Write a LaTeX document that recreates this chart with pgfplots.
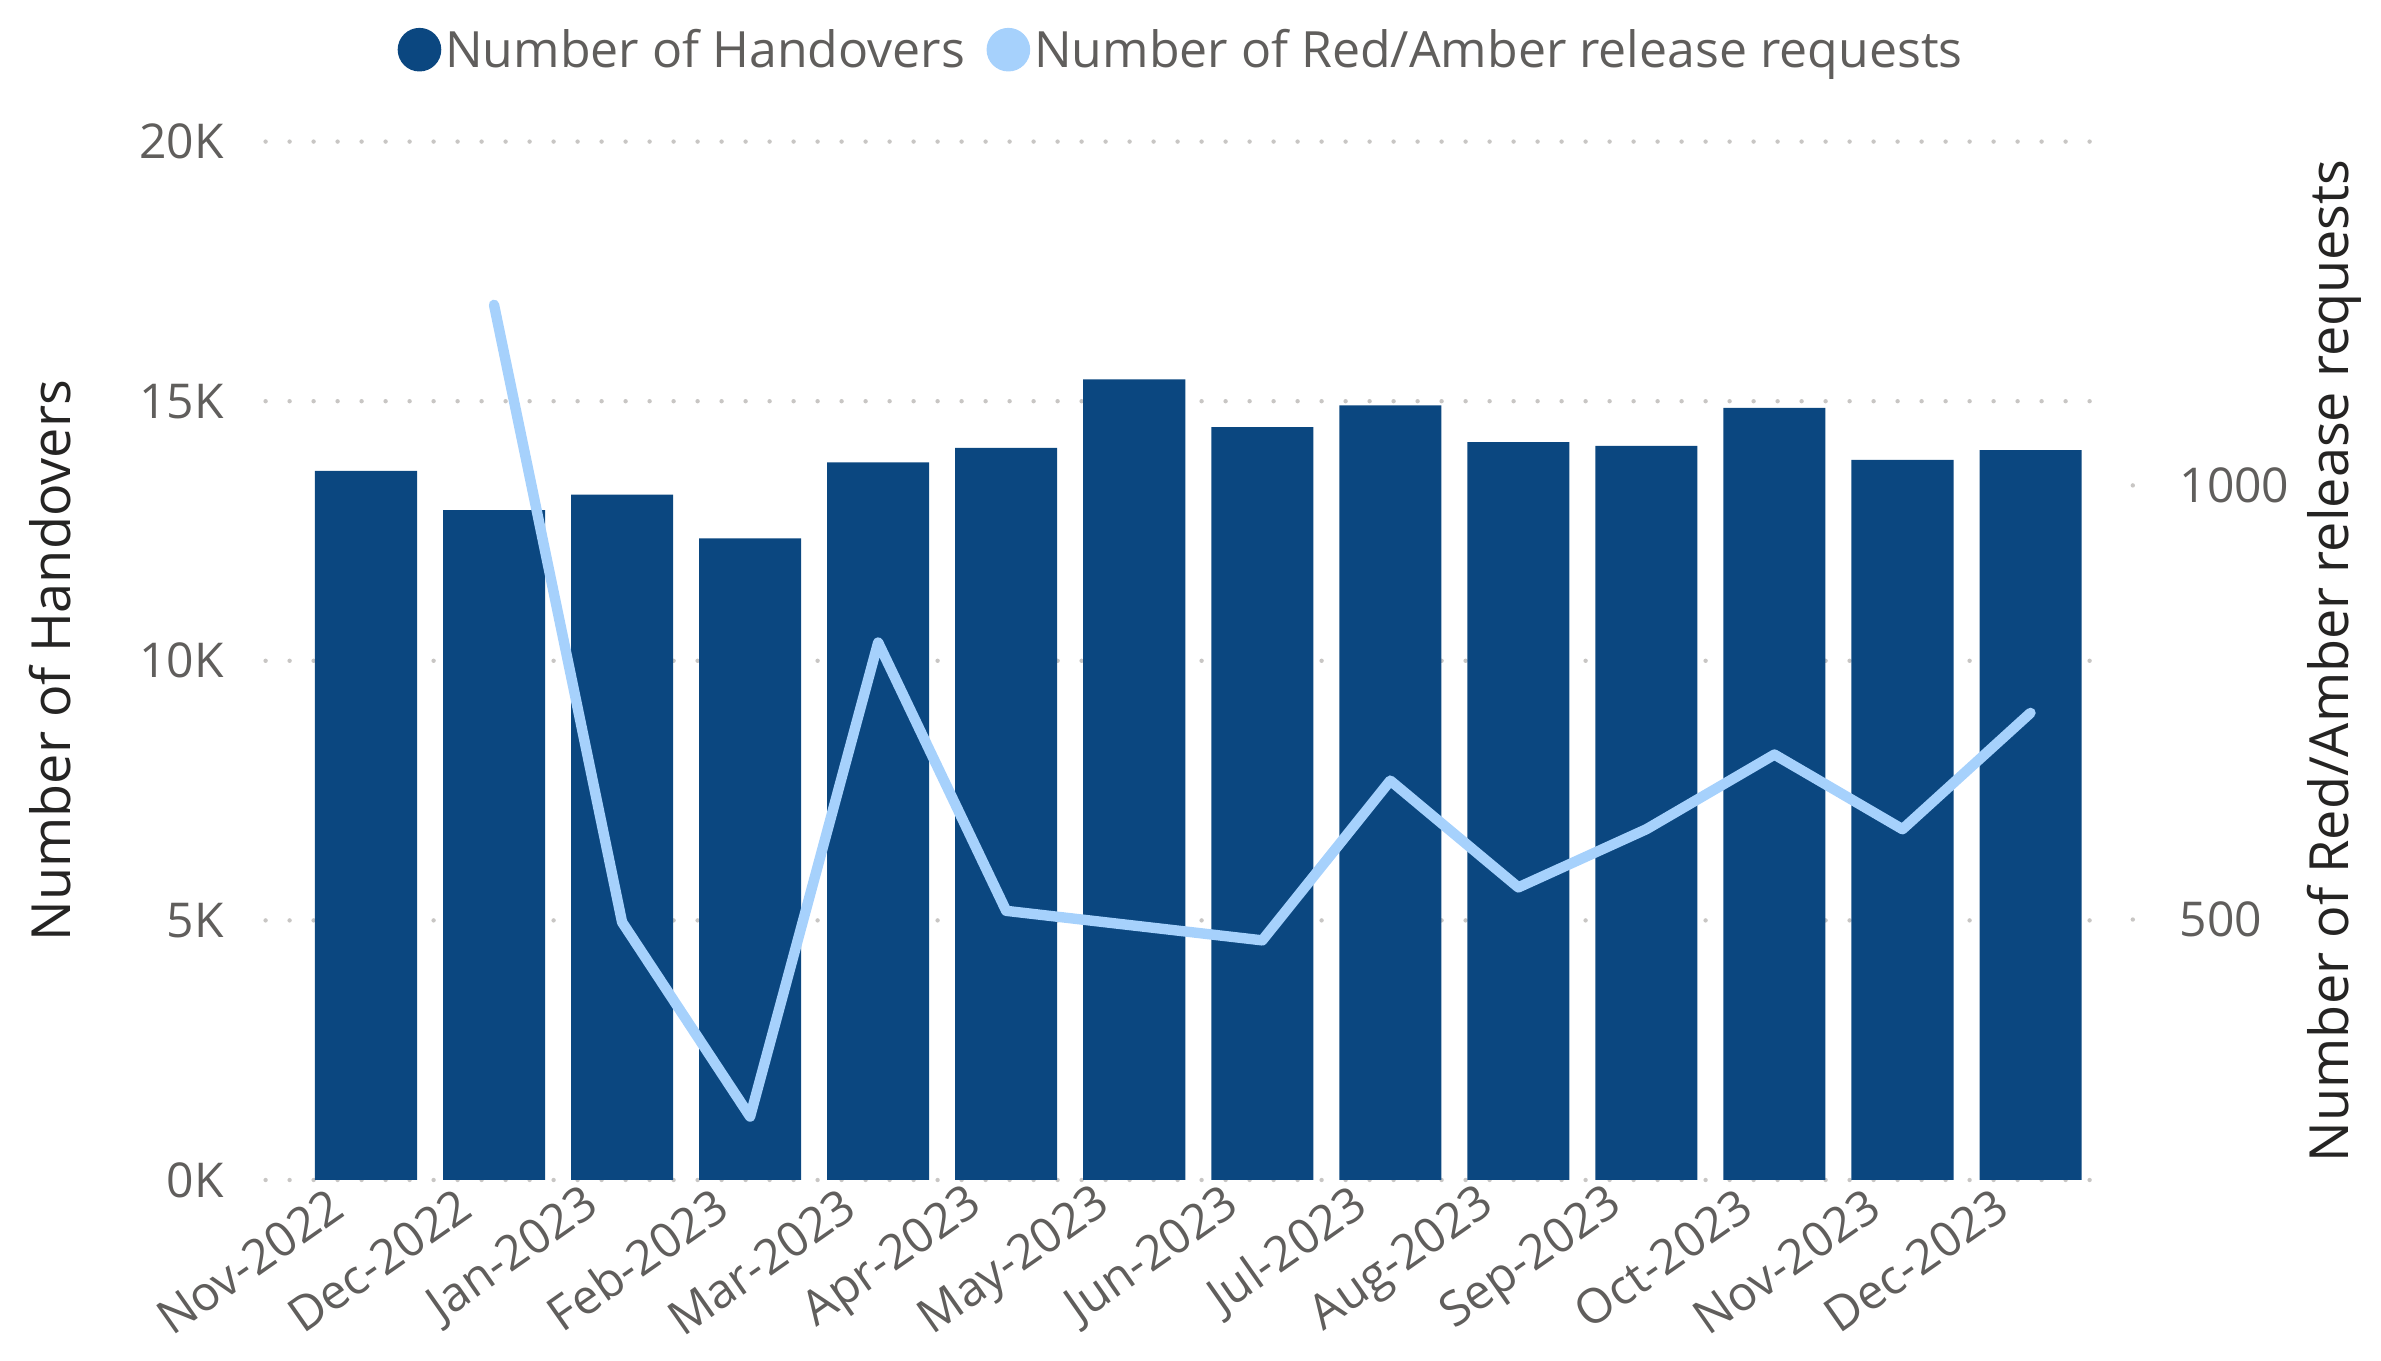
\documentclass[border=0pt]{standalone}
\usepackage{fontspec}
\setmainfont{Open Sans}
\usepackage{pgfplots}
\usepackage{pgfplotstable}
\pgfplotsset{compat=1.18}
\definecolor{hbar}{HTML}{0B4780}
\definecolor{rline}{HTML}{A6D1FC}
\definecolor{lblgray}{HTML}{605E5C}
\definecolor{ttl}{HTML}{252423}
\definecolor{gridc}{HTML}{C8C6C4}

\pgfplotstableread{
x h
0 13660
1 12900
2 13200
3 12360
4 13820
5 14100
6 15420
7 14500
8 14920
9 14210
10 14140
11 14870
12 13870
13 14060
}\handovers

\pgfplotstableread{
x r
1 1208
2 497
3 273
4 819
5 510
6 493
7 476
8 660
9 537
10 604
11 690
12 604
13 738
}\requests

\begin{document}
\begin{tikzpicture}
\path[use as bounding box] (0,0) rectangle (595.25pt,340.25pt);
\begin{axis}[
  at={(66.4pt,45.25pt)}, anchor=south west,
  width=461.3pt, height=259.6pt, scale only axis,
  xmin=-0.784, xmax=13.627,
  ymin=0, ymax=20000,
  scaled y ticks=false,
  axis line style={draw=none},
  xtick={0,...,13},
  xticklabels={Nov-2022,Dec-2022,Jan-2023,Feb-2023,Mar-2023,Apr-2023,May-2023,Jun-2023,Jul-2023,Aug-2023,Sep-2023,Oct-2023,Nov-2023,Dec-2023},
  ytick={0,5000,10000,15000,20000},
  yticklabels={0K,5K,10K,15K,20K},
  major tick length=0pt,
  tick style={draw=none},
  ymajorgrids,
  grid style={gridc, line width=1.1pt, line cap=round, dash pattern=on 0pt off 6pt},
  ticklabel style={font=\fontsize{12}{14}\selectfont, text=lblgray, inner sep=0pt},
  yticklabel style={anchor=east, xshift=-10.25pt},
  xticklabel style={xshift=-7pt, yshift=-5pt, rotate=35, anchor=east},
  ylabel={Number of Handovers},
  ylabel style={at={(axis description cs:-0.1168,0.5)}, anchor=center, font=\fontsize{13.5}{16}\selectfont, text=ttl},
  legend style={draw=none, fill=none, at={(0.4967,1.0866)}, anchor=center, legend columns=2,
    /tikz/every even column/.append style={column sep=4.4pt},
    font=\fontsize{12.5}{15}\selectfont, text=lblgray, nodes={inner sep=1pt}},
]
\addplot[ybar, bar width=0.797, fill=hbar, draw=none, forget plot] table[x=x,y=h]{\handovers};
\addlegendimage{legend image code/.code={\fill[hbar] (5.25pt,0.5pt) circle (5.25pt);}}
\addlegendentry{Number of Handovers}
\addlegendimage{legend image code/.code={\fill[rline] (5.25pt,0.5pt) circle (5.25pt);}}
\addlegendentry{Number of Red/Amber release requests}
\end{axis}
\begin{axis}[
  at={(66.4pt,45.25pt)}, anchor=south west,
  width=461.3pt, height=259.6pt, scale only axis,
  xmin=-0.784, xmax=13.627,
  ymin=200, ymax=1396,
  axis x line=none,
  axis y line*=right,
  axis line style={draw=none},
  ytick={500,1000}, yticklabels={500,1000},
  tick align=outside, major tick length=5.5pt,
  ytick style={draw=gridc, line width=1.1pt, line cap=round, dash pattern=on 0pt off 5.5pt},
  yticklabel style={font=\fontsize{12}{14}\selectfont, text=lblgray, inner sep=0pt, anchor=west, xshift=11.5pt},
  ylabel={Number of Red/Amber release requests},
  ylabel style={at={(axis description cs:1.121,0.5)}, anchor=center, font=\fontsize{13.5}{16}\selectfont, text=ttl},
]
\addplot[rline, line width=2.6pt, line join=round, line cap=round, mark=none] table[x=x,y=r]{\requests};
\end{axis}
\end{tikzpicture}
\end{document}
